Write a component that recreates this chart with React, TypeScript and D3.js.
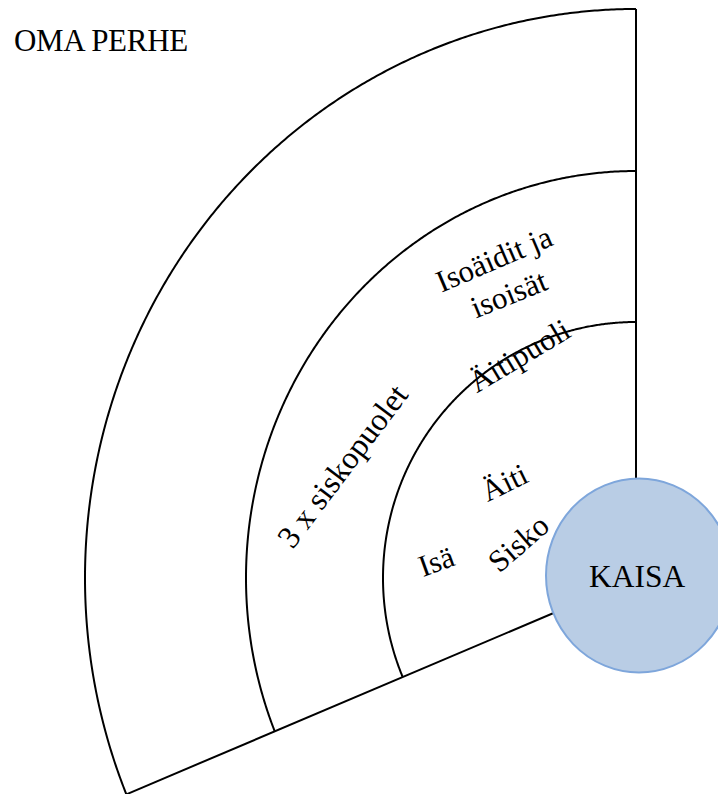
import React from "react";
import * as d3 from "d3";

// ---- data ----
const title = "OMA PERHE";
const centerName = "KAISA";
// concentric rings, inner -> outer (radial extent, horizontal / vertical)
const ringRx = [253, 390, 551];
const ringRy = [256, 407, 569];
// sector spans from straight up (90°) to this angle (degrees, counter-clockwise)
const sectorStart = 90;
const sectorEnd = 203;
// labels placed in polar coordinates around the centre
const labelTexts = ["Äiti", "Isä", "Sisko", "Äitipuoli", "Isoäidit ja", "isoisät", "3 x siskopuolet"];
const labelAngle = [144, 175.1, 163.5, 117.7, 114, 114.1, 159.1];
const labelRadius = [163, 200.7, 123, 251.4, 349.6, 311.6, 314.6];
const labelRotate = [-26, -20, -41, -31, -23, -22, -53];
const labelSize = [30.5, 30.5, 31, 31, 31, 31, 32];

const W = 718;
const H = 794;
const cx = 636;
const cy = 578;

const FONT = "'Liberation Serif', 'Times New Roman', Times, serif";

export default function App() {
  const rad = (deg: number) => (deg * Math.PI) / 180;
  const x = d3.scaleLinear().domain([-1, 1]).range([cx - 1, cx + 1]);
  const y = d3.scaleLinear().domain([-1, 1]).range([cy + 1, cy - 1]);
  const line = d3
    .line<[number, number]>()
    .x((d) => x(d[0]))
    .y((d) => y(d[1]));

  const arcs = ringRx.map((rx, i) => {
    const ry = ringRy[i];
    const phi = rad(sectorEnd);
    const tEnd = Math.atan2((rx / ry) * Math.sin(phi), Math.cos(phi));
    const tEndPos = tEnd < 0 ? tEnd + 2 * Math.PI : tEnd;
    const ts = d3.range(rad(sectorStart), tEndPos, 0.005).concat([tEndPos]);
    const pts = ts.map((t) => [rx * Math.cos(t), ry * Math.sin(t)] as [number, number]);
    return line(pts) as string;
  });

  const outerRx = ringRx[ringRx.length - 1];
  const outerRy = ringRy[ringRy.length - 1];
  const phi = rad(sectorEnd);
  const tE = Math.atan2((outerRx / outerRy) * Math.sin(phi), Math.cos(phi));
  const endPt: [number, number] = [outerRx * Math.cos(tE), outerRy * Math.sin(tE)];
  const bottomLine = line([[0, 0], endPt]) as string;
  const topLine = line([[0, 0], [0, outerRy]]) as string;

  return (
    <svg
      width={W}
      height={H}
      viewBox={`0 0 ${W} ${H}`}
      style={{ position: "absolute", left: 0, top: 0, background: "#fff" }}
    >
      <rect width={W} height={H} fill="#fff" />
      <text x={14} y={51} fontFamily={FONT} fontSize={31} fill="#000" letterSpacing={-0.3}>
        {title}
      </text>
      <g fill="none" stroke="#000" strokeWidth={2}>
        {arcs.map((d, i) => (
          <path key={i} d={d} />
        ))}
        <path d={bottomLine} />
        <path d={topLine} />
      </g>
      {labelTexts.map((t, i) => {
        const a = rad(labelAngle[i]);
        const px = x(labelRadius[i] * Math.cos(a));
        const py = y(labelRadius[i] * Math.sin(a));
        return (
          <text
            key={t}
            x={px}
            y={py}
            dy="0.35em"
            textAnchor="middle"
            fontFamily={FONT}
            fontSize={labelSize[i]}
            fill="#000"
            transform={`rotate(${labelRotate[i]} ${px} ${py})`}
          >
            {t}
          </text>
        );
      })}
      <ellipse cx={639} cy={575.5} rx={93} ry={97} fill="#b9cde5" stroke="#7ea6db" strokeWidth={2} />
      <text x={589} y={587} fontFamily={FONT} fontSize={31.5} fill="#000">
        {centerName}
      </text>
    </svg>
  );
}
